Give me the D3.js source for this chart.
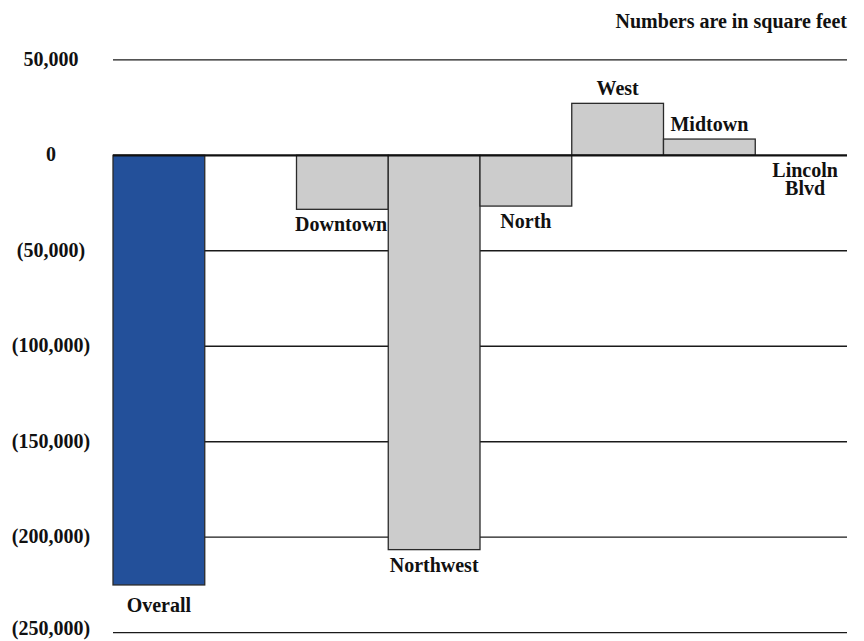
<!DOCTYPE html>
<html>
<head>
<meta charset="utf-8">
<script src="https://cdn.jsdelivr.net/npm/d3@7"></script>
<style>
  html, body { margin: 0; padding: 0; background: #ffffff; }
  svg { display: block; }
  text { font-family: "Liberation Serif", "Times New Roman", serif; font-weight: bold; fill: #111; }
</style>
</head>
<body>
<svg id="chart" width="864" height="641"></svg>
<script>
// ---- data ----
const categories = ["Overall", "Downtown", "Northwest", "North", "West", "Midtown", "Lincoln Blvd"];
const values = [-225000, -28300, -206500, -26600, 27200, 8500, 0];
const isTotal = [true, false, false, false, false, false, false];
const tickValues = [50000, 0, -50000, -100000, -150000, -200000, -250000];
const tickLabels = ["50,000", "0", "(50,000)", "(100,000)", "(150,000)", "(200,000)", "(250,000)"];
const note = "Numbers are in square feet";

// ---- layout ----
const plotLeft = 113, plotRight = 847, plotTop = 59.8, plotBottom = 632.7;
const svg = d3.select("#chart");

const slots = [categories[0], "__gap__", ...categories.slice(1)];
const x = d3.scaleBand().domain(slots).range([plotLeft, plotRight]).padding(0);
const y = d3.scaleLinear().domain([-250000, 50000]).range([plotBottom, plotTop]);

// gridlines
svg.append("g").selectAll("line")
  .data(tickValues.filter(v => v !== 0))
  .join("line")
  .attr("x1", plotLeft).attr("x2", plotRight)
  .attr("y1", d => y(d)).attr("y2", d => y(d))
  .attr("stroke", "#1a1a1a").attr("stroke-width", 1.3);

// tick labels
svg.append("g").selectAll("text")
  .data(tickValues)
  .join("text")
  .attr("x", 51)
  .attr("y", d => Math.min(y(d) + 6, 635))
  .attr("text-anchor", "middle")
  .attr("font-size", 20)
  .text((d, i) => tickLabels[i]);

const data = categories.map((c, i) => ({ name: c, value: values[i], total: isTotal[i] }));

// bars
svg.append("g").selectAll("rect")
  .data(data)
  .join("rect")
  .attr("x", d => x(d.name))
  .attr("width", x.bandwidth())
  .attr("y", d => y(Math.max(0, d.value)))
  .attr("height", d => Math.abs(y(d.value) - y(0)))
  .attr("fill", d => d.total ? "#23509A" : "#cccccc")
  .attr("stroke", "#2a2a2a")
  .attr("stroke-width", 1.3);

// zero line
svg.append("line")
  .attr("x1", plotLeft).attr("x2", plotRight)
  .attr("y1", y(0)).attr("y2", y(0))
  .attr("stroke", "#111").attr("stroke-width", 2.2);

// bar labels
const labels = svg.append("g").selectAll("text")
  .data(data)
  .join("text")
  .attr("text-anchor", "middle")
  .attr("font-size", 20)
  .attr("x", d => x(d.name) + x.bandwidth() / 2)
  .attr("y", d => d.value > 0 ? y(d.value) - 8 : y(d.value) + (d.total ? 27 : 22));

labels.each(function(d) {
  const t = d3.select(this);
  const words = d.name.split(" ");
  if (words.length > 1) {
    words.forEach((w, i) => {
      t.append("tspan").attr("x", +t.attr("x") + 4).attr("dy", i === 0 ? 0 : 18).text(w);
    });
  } else {
    t.text(d.name);
  }
});

// keep labels from running into a deeper neighbouring bar
labels.each(function(d, i) {
  if (d.value >= 0) return;
  const t = d3.select(this);
  const w = this.getComputedTextLength();
  const cx = +t.attr("x");
  const next = data[i + 1];
  const slotRight = x(d.name) + x.bandwidth();
  if (next && next.value < d.value && cx + w / 2 > slotRight - 1) {
    t.attr("x", slotRight - 1 - w / 2);
  }
});

// note
svg.append("text")
  .attr("x", plotRight)
  .attr("y", 28)
  .attr("text-anchor", "end")
  .attr("font-size", 20)
  .text(note);
</script>
</body>
</html>
